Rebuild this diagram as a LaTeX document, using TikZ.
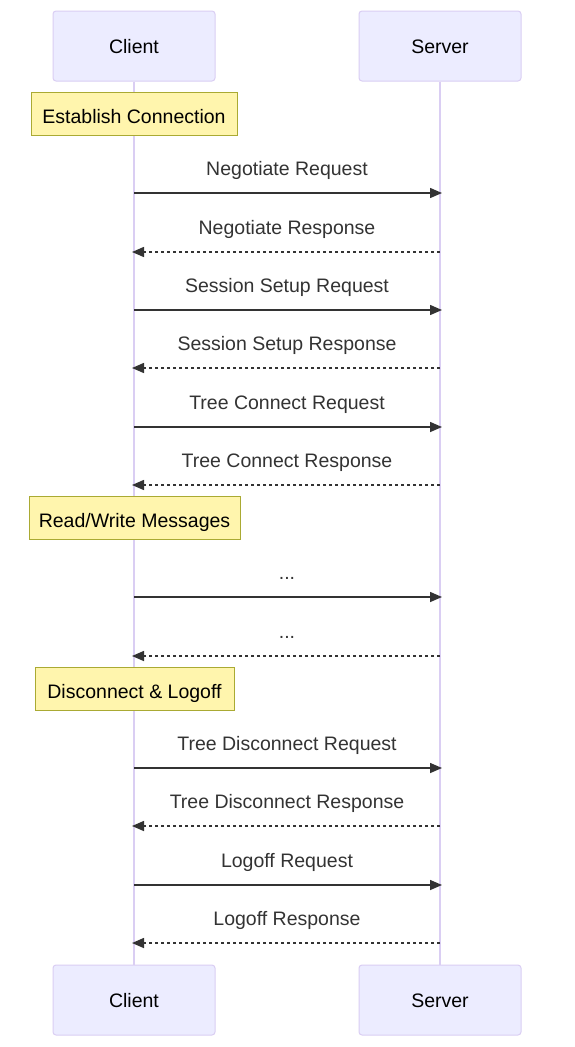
\documentclass[tikz,border=0pt]{standalone}
\usepackage{fontspec}
\setmainfont{Liberation Sans}
\usetikzlibrary{arrows.meta}
\definecolor{actfill}{HTML}{ECECFF}
\definecolor{actline}{HTML}{DACEF3}
\definecolor{notefill}{HTML}{FFF5AD}
\definecolor{noteline}{HTML}{AAAA33}
\definecolor{msg}{HTML}{333333}
\newcommand{\mydots}{...}
\newcommand{\bigf}{\fontsize{19.5pt}{23pt}\selectfont}
\begin{document}
\begin{tikzpicture}[x=1pt,y=-1pt,
  actor/.style={draw=actline,fill=actfill,rounded corners=3pt,line width=1pt,minimum width=162pt,minimum height=70pt,inner sep=0pt,text height=14.2pt,text depth=0pt,font=\bigf,text=black},
  notebox/.style={draw=noteline,fill=notefill,line width=1pt,minimum height=43pt,inner sep=0pt,text height=19pt,text depth=0pt,font=\bigf,text=black},
  lifeline/.style={draw=actline,line width=1.5pt},
  reqline/.style={draw=msg,line width=1.5pt,-{Triangle[length=12pt,width=10pt]}},
  resline/.style={draw=msg,line width=1.5pt,dash pattern=on 3pt off 3pt,-{Triangle[length=12pt,width=10pt]}},
  lbl/.style={font=\bigf,text=msg,inner sep=0pt,anchor=base}
]
\useasboundingbox (0,0) rectangle (574,1047);
\fill[white] (0,0) rectangle (574,1047);
\node[actor] (ct) at (134,46) {Client};
\node[actor] (st) at (440,46) {Server};
\node[actor] (cb) at (134,1000) {Client};
\node[actor] (sb) at (440,1000) {Server};
\draw[lifeline] (ct.south) -- (cb.north);
\draw[lifeline] (st.south) -- (sb.north);
\node[notebox,minimum width=206pt] (n1) at (134,113.5) {Establish Connection};
\node[notebox,minimum width=211pt] (n2) at (134.5,517.5) {Read/Write Messages};
\node[notebox,minimum width=199pt] (n3) at (134.5,688.5) {Disconnect \& Logoff};
\foreach \i/\y/\t in {1/193/Negotiate Request, 2/252/Negotiate Response, 3/310/Session Setup Request, 4/368/Session Setup Response, 5/427/Tree Connect Request, 6/485/Tree Connect Response, 7/597/\mydots, 8/656/\mydots, 9/768/Tree Disconnect Request, 10/826/Tree Disconnect Response, 11/885/Logoff Request, 12/943/Logoff Response}{
  \coordinate (c\i) at (134,\y);
  \coordinate (s\i) at (440,\y);
  \node[lbl] (m\i) at (287,\y-17.7) {\t};
}
\foreach \i in {1,3,5,7,9,11}{\draw[reqline] (c\i) -- ([xshift=2pt]s\i);}
\foreach \i in {2,4,6,8,10,12}{\draw[resline] (s\i) -- ([xshift=-2pt]c\i);}
\end{tikzpicture}
\end{document}
